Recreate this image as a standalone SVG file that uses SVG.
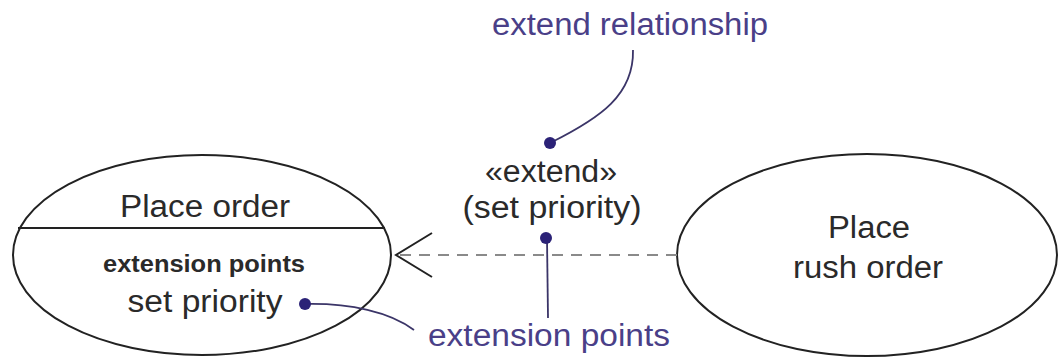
<svg xmlns="http://www.w3.org/2000/svg" width="1059" height="360" viewBox="0 0 1059 360">
<style>
.node{fill:#fff;stroke:#222;stroke-width:2}
.t{font-family:"Liberation Sans",Arial,sans-serif;fill:#2a2a2a;text-anchor:middle}
.n{font-size:31px}
.b{font-size:23.5px;font-weight:bold}
.note{font-family:"Liberation Sans",Arial,sans-serif;fill:#4a3f88;font-size:31px;text-anchor:middle}
.call{fill:none;stroke:#3b3568;stroke-width:1.8}
.dot{fill:#2b2277}
</style>
<rect width="1059" height="360" fill="#fff"/>
<g id="place-order">
<ellipse class="node" cx="202" cy="255" rx="189" ry="100"/>
<line x1="18" y1="228" x2="385" y2="228" stroke="#222" stroke-width="2"/>
<text class="t n" x="205" y="217" textLength="170" lengthAdjust="spacingAndGlyphs">Place order</text>
<text class="t b" x="204" y="272" textLength="202" lengthAdjust="spacingAndGlyphs">extension points</text>
<text class="t n" x="205" y="312" textLength="155" lengthAdjust="spacingAndGlyphs">set priority</text>
</g>
<g id="place-rush-order">
<ellipse class="node" cx="867" cy="255" rx="190" ry="101"/>
<text class="t n" x="869" y="238" textLength="82" lengthAdjust="spacingAndGlyphs">Place</text>
<text class="t n" x="868" y="278" textLength="150" lengthAdjust="spacingAndGlyphs">rush order</text>
</g>
<g id="connectors">
<line x1="677" y1="255" x2="399" y2="255" stroke="#8a8a8a" stroke-width="2" stroke-dasharray="11 8"/>
<polyline points="432,233 396,255 432,277" fill="none" stroke="#222" stroke-width="2"/>
</g>
<g id="extend-label">
<text class="t n" x="551" y="182" textLength="132" lengthAdjust="spacingAndGlyphs">«extend»</text>
<text class="t n" x="552" y="218" textLength="179" lengthAdjust="spacingAndGlyphs">(set priority)</text>
</g>
<g id="note-extend-relationship">
<text class="note" x="630" y="35" textLength="276" lengthAdjust="spacingAndGlyphs">extend relationship</text>
<path class="call" d="M633,50 C634,95 600,118 552,142"/>
<circle class="dot" cx="550" cy="143" r="6"/>
</g>
<g id="note-extension-points">
<text class="note" x="549" y="346" textLength="242" lengthAdjust="spacingAndGlyphs">extension points</text>
<line class="call" x1="547" y1="238" x2="548" y2="318"/>
<circle class="dot" cx="546" cy="238" r="6"/>
<path class="call" d="M305,304 C350,303 390,312 414,330"/>
<circle class="dot" cx="305" cy="304" r="6"/>
</g>
</svg>
